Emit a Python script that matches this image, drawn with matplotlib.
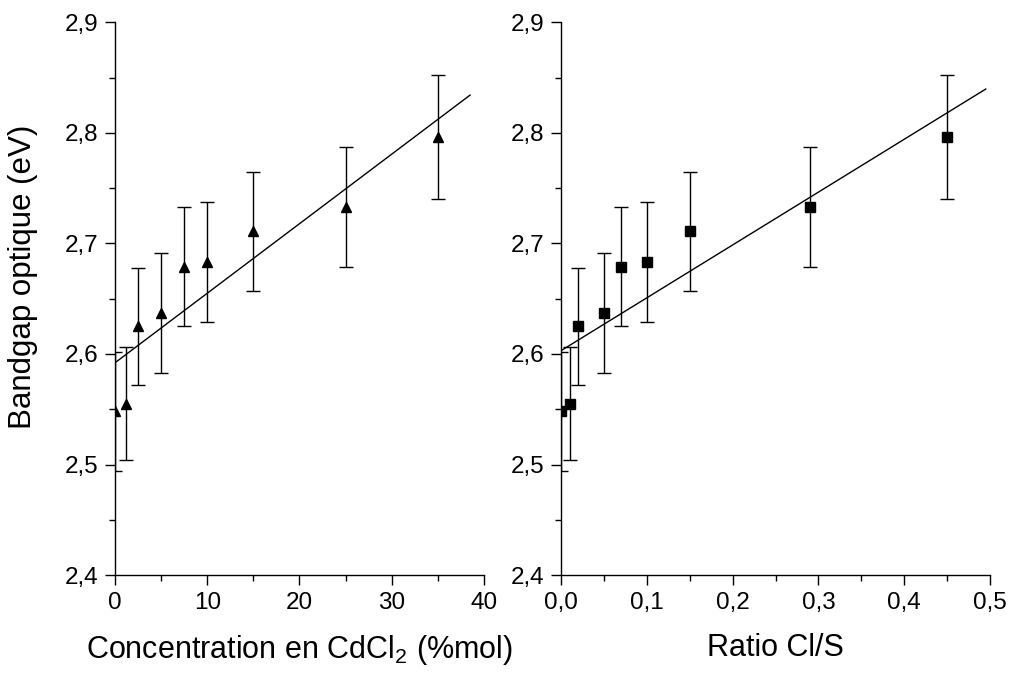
import numpy as np
import matplotlib
matplotlib.use("Agg")
import matplotlib.pyplot as plt
from matplotlib.ticker import MultipleLocator, FuncFormatter

plt.rcParams['font.family'] = ['Liberation Sans', 'DejaVu Sans']
plt.rcParams['mathtext.fontset'] = 'custom'
plt.rcParams['mathtext.rm'] = 'Liberation Sans'
plt.rcParams['mathtext.it'] = 'Liberation Sans'

# ---- data ----
conc = [0, 1.25, 2.5, 5, 7.5, 10, 15, 25, 35]            # %mol CdCl2
ratio = [0.0, 0.01, 0.02, 0.05, 0.07, 0.10, 0.15, 0.29, 0.45]  # Cl/S
gap = [2.548, 2.555, 2.625, 2.637, 2.679, 2.683, 2.711, 2.733, 2.796]
gap_err = [0.054, 0.051, 0.053, 0.054, 0.054, 0.054, 0.054, 0.054, 0.056]

# linear fits (intercept, slope, x range) as drawn
fit_left = (2.592, 0.00629, [0.0, 38.5])
fit_right = (2.603, 0.478, [0.0, 0.495])


def comma(v, pos, nd):
    return f"{v:.{nd}f}".replace('.', ',')


fig = plt.figure(figsize=(10.12, 6.75), dpi=100)
axL = fig.add_axes([0.1136, 0.148, 0.3646, 0.819])
axR = fig.add_axes([0.5544, 0.148, 0.4239, 0.819])

panels = [
    (axL, conc, '^', fit_left, (0, 40), 10, 5, 0),
    (axR, ratio, 's', fit_right, (0, 0.5), 0.1, 0.05, 1),
]

for ax, xs, mk, fit, xlim, maj, mnr, nd in panels:
    ax.errorbar(xs, gap, yerr=gap_err, fmt=mk, color='black', ms=6.5,
                elinewidth=1, capsize=5, capthick=1, clip_on=True, zorder=3)
    b, m, xr = fit
    xr = np.array(xr)
    ax.plot(xr, b + m * xr, color='black', lw=1)
    ax.set_xlim(*xlim)
    ax.set_ylim(2.4, 2.9)
    ax.xaxis.set_major_locator(MultipleLocator(maj))
    ax.xaxis.set_minor_locator(MultipleLocator(mnr))
    ax.yaxis.set_major_locator(MultipleLocator(0.1))
    ax.yaxis.set_minor_locator(MultipleLocator(0.05))
    ax.xaxis.set_major_formatter(FuncFormatter(lambda v, p, nd=nd: comma(v, p, nd)))
    ax.yaxis.set_major_formatter(FuncFormatter(lambda v, p: comma(v, p, 1)))
    for s in ('top', 'right'):
        ax.spines[s].set_visible(False)
    for s in ('left', 'bottom'):
        ax.spines[s].set_linewidth(1)
    ax.tick_params(which='major', direction='out', length=7, width=1,
                   labelsize=17.5, pad=5)
    ax.tick_params(which='minor', direction='out', length=4, width=1)

axL.set_xlabel('Concentration en CdCl$_2$ (%mol)', fontsize=22, labelpad=14)
axR.set_xlabel('Ratio Cl/S', fontsize=22, labelpad=14)
axL.set_ylabel('Bandgap optique (eV)', fontsize=22.5)
axL.yaxis.set_label_coords(-0.209, 0.54)

fig.savefig('out.png', dpi=100)
